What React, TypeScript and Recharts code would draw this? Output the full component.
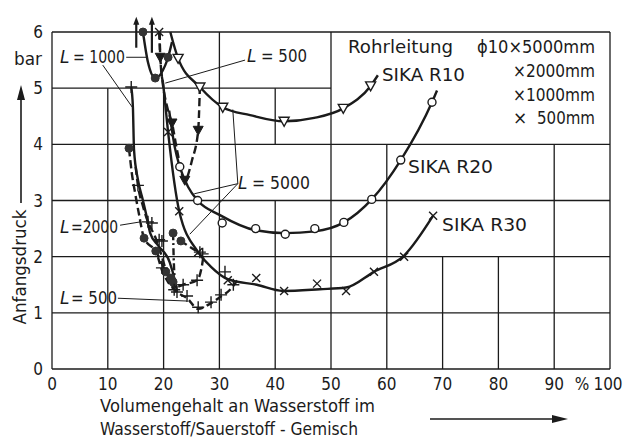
import React from 'react'
import { ComposedChart, Line, Scatter, XAxis, YAxis, ReferenceLine } from 'recharts'

type P = [number, number]

const xTicks = [0, 10, 20, 30, 40, 50, 60, 70, 80, 90, 100]
const yTicks = [0, 1, 2, 3, 4, 5, 6]

// SIKA R10 (triangles)
const r10L5000Line: P[] = [[21.2, 6.0], [22.6, 5.53], [26.5, 5.02], [30.6, 4.66], [35.5, 4.52], [41.6, 4.41], [47.0, 4.47], [52.2, 4.64], [57.1, 5.04], [58.4, 5.23]]
const r10L5000Pts: P[] = [[22.6, 5.53], [26.5, 5.02], [30.6, 4.66], [41.6, 4.41], [52.2, 4.64], [57.1, 5.04]]
const r10L1000Line: P[] = [[19.3, 6.0], [19.4, 5.55], [20.8, 4.6], [21.5, 4.38], [22.4, 3.9], [23.8, 3.36], [25.1, 3.72], [26.2, 4.25], [26.5, 5.02]]
const r10L1000Pts: P[] = [[19.4, 5.55], [21.5, 4.38], [23.8, 3.36], [26.2, 4.25]]

// SIKA R20 (circles)
const r20L5000Line: P[] = [[21.0, 4.6], [22.0, 3.95], [22.9, 3.6], [24.4, 3.24], [26.1, 3.0], [30.1, 2.74], [36.5, 2.47], [41.8, 2.42], [47.1, 2.45], [52.3, 2.61], [57.3, 3.02], [62.5, 3.72], [68.1, 4.75], [69.0, 4.96]]
const r20L5000Pts: P[] = [[22.9, 3.6], [26.1, 3.0], [30.5, 2.6], [36.5, 2.5], [41.8, 2.4], [47.1, 2.5], [52.3, 2.61], [57.3, 3.02], [62.5, 3.72], [68.1, 4.75]]
const r20L1000Line: P[] = [[16.3, 6.0], [17.2, 5.46], [18.5, 5.18], [20.3, 5.41], [20.8, 5.55], [21.5, 5.82]]
const r20L1000Pts: P[] = [[16.3, 6.0], [18.5, 5.18], [20.8, 5.55]]
const r20L2000Line: P[] = [[13.8, 3.93], [14.3, 3.49], [14.9, 3.13], [15.6, 2.75], [16.5, 2.33], [18.6, 2.1], [20.4, 1.73], [21.7, 1.55], [22.2, 1.45]]
const r20L2000Pts: P[] = [[13.8, 3.93], [16.5, 2.33], [18.6, 2.1], [20.4, 1.73], [21.3, 1.62], [21.7, 1.55]]
const r20L500aLine: P[] = [[21.7, 2.42], [21.8, 2.0], [22.0, 1.58]]
const r20L500aPts: P[] = [[21.7, 2.42]]
const r20L500bLine: P[] = [[23.1, 2.28], [24.6, 2.18], [26.2, 2.08]]
const r20L500bPts: P[] = [[23.1, 2.28]]

// SIKA R30 (crosses)
const r30L5000Line: P[] = [[19.9, 5.1], [20.8, 4.22], [22.8, 2.81], [26.2, 2.08], [28.5, 1.82], [31.5, 1.6], [36.7, 1.5], [41.4, 1.39], [48.0, 1.42], [52.7, 1.45], [57.7, 1.73], [63.1, 2.02], [68.3, 2.73]]
const r30L5000Pts: P[] = [[20.8, 4.22], [22.8, 2.81], [26.2, 2.08], [31.5, 1.58], [36.6, 1.62], [41.6, 1.39], [47.5, 1.52], [52.7, 1.39], [57.7, 1.73], [63.1, 2.0], [68.3, 2.73]]
const r30TopLine: P[] = [[19.2, 6.0], [19.5, 5.4], [19.9, 5.1]]
const r30TopPts: P[] = [[19.2, 6.0]]
const r30L1000Line: P[] = [[14.2, 5.02], [14.5, 4.66], [14.7, 3.9], [15.4, 3.37], [16.3, 3.0], [17.0, 2.7], [17.6, 2.42], [19.0, 2.2], [21.1, 1.9], [22.0, 1.58], [22.4, 1.37]]
const r30L1000Pts: P[] = [[14.2, 5.02]]
const r30L2000Line: P[] = [[15.0, 3.6], [15.4, 3.27], [16.3, 2.9], [17.2, 2.62], [18.5, 2.35], [19.7, 2.0], [20.6, 1.7], [21.9, 1.45], [23.5, 1.5], [26.0, 1.58], [26.8, 1.8], [27.2, 2.05]]
const r30L2000Pts: P[] = [[15.4, 3.27], [17.2, 2.62], [17.9, 2.6], [19.2, 2.3], [19.7, 2.28], [19.7, 1.8], [21.9, 1.41], [23.5, 1.5], [26.0, 1.58], [26.5, 2.08], [27.0, 2.05]]
const r30L500Line: P[] = [[19.0, 1.99], [19.7, 1.76], [20.6, 1.58], [22.4, 1.37], [24.2, 1.26], [26.2, 1.07], [28.3, 1.16], [30.1, 1.28], [31.9, 1.41], [33.2, 1.58]]
const r30L500Pts: P[] = [[22.4, 1.37], [24.2, 1.3], [26.2, 1.1], [28.5, 1.19], [30.3, 1.32], [32.5, 1.5], [31.0, 1.73]]

// label leaders and off-scale arrows
const leaders: [P, P][] = [
    [[13.3, 5.55], [16.9, 5.55]],
    [[9.1, 5.41], [14.4, 4.66]],
    [[34.6, 5.5], [20.3, 5.09]],
    [[33.3, 3.3], [32.4, 4.62]],
    [[33.3, 3.3], [25.5, 3.12]],
    [[33.3, 3.3], [24.7, 2.4]],
    [[12.2, 2.56], [15.9, 2.62]],
    [[11.8, 1.26], [24.2, 1.21]],
]
const upArrows: [P, P][] = [
    [[15.1, 5.72], [15.1, 6.27]],
    [[17.9, 5.63], [17.9, 6.27]],
]

// grid (irregular: boxes left free for labels)
const vGrid: [number, number, number][] = [[0, 0, 6], [10, 0, 5], [20, 0, 5], [30, 0, 6], [40, 0, 3], [40, 4, 5], [50, 0, 6], [60, 0, 4], [70, 0, 2], [80, 0, 2], [90, 0, 4], [100, 0, 6]]
const hGrid: [number, number, number][] = [[0, 0, 100], [1, 0, 100], [2, 0, 100], [3, 0, 100], [4, 0, 100], [5, 0, 50], [6, 0, 100]]

const rows = (a: P[]) => a.map(([x, y]) => ({ x, y }))
const INK = '#1b1b1b'
const FONT = '"DejaVu Sans", sans-serif'
const DIGITS = '"Liberation Sans Narrow", "DejaVu Sans Condensed", sans-serif'

const series = [
    { id: 'r10a', line: r10L5000Line, pts: r10L5000Pts, dash: '', mark: 'triOpen' },
    { id: 'r10b', line: r10L1000Line, pts: r10L1000Pts, dash: '8 4', mark: 'triFill' },
    { id: 'r20a', line: r20L5000Line, pts: r20L5000Pts, dash: '', mark: 'circOpen' },
    { id: 'r20b', line: r20L1000Line, pts: r20L1000Pts, dash: '', mark: 'circFill' },
    { id: 'r20c', line: r20L2000Line, pts: r20L2000Pts, dash: '8 4', mark: 'circFill' },
    { id: 'r20d', line: r20L500aLine, pts: r20L500aPts, dash: '7 3 2 3', mark: 'circFill' },
    { id: 'r20e', line: r20L500bLine, pts: r20L500bPts, dash: '7 4', mark: 'circFill' },
    { id: 'r30a', line: r30L5000Line, pts: r30L5000Pts, dash: '', mark: 'cross' },
    { id: 'r30b', line: r30TopLine, pts: r30TopPts, dash: '7 4', mark: 'cross' },
    { id: 'r30c', line: r30L1000Line, pts: r30L1000Pts, dash: '', mark: 'plus' },
    { id: 'r30d', line: r30L2000Line, pts: r30L2000Pts, dash: '8 4', mark: 'plus' },
    { id: 'r30e', line: r30L500Line, pts: r30L500Pts, dash: '7 4', mark: 'plus' },
]

const markShape = (kind: string) => (p: any) => {
    const { cx, cy } = p
    if (cx == null || cy == null) return <g />
    switch (kind) {
        case 'triOpen':
            return <polygon points={`${cx - 5},${cy - 4} ${cx + 5},${cy - 4} ${cx},${cy + 5}`} fill="#fff" stroke={INK} strokeWidth={1.4} />
        case 'triFill':
            return <polygon points={`${cx - 5},${cy - 4} ${cx + 5},${cy - 4} ${cx},${cy + 5}`} fill={INK} stroke={INK} strokeWidth={1} />
        case 'circOpen':
            return <circle cx={cx} cy={cy} r={4} fill="#fff" stroke={INK} strokeWidth={1.4} />
        case 'circFill':
            return <circle cx={cx} cy={cy} r={4} fill="#333" stroke="#333" />
        case 'cross':
            return <path d={`M${cx - 4},${cy - 4}L${cx + 4},${cy + 4}M${cx + 4},${cy - 4}L${cx - 4},${cy + 4}`} stroke={INK} strokeWidth={1.4} />
        default:
            return <path d={`M${cx - 6},${cy}L${cx + 6},${cy}M${cx},${cy - 6}L${cx},${cy + 6}`} stroke={INK} strokeWidth={1.4} />
    }
}

const arrowShape = (p: any) => {
    const { x1, y1, x2, y2 } = p
    return (
        <g>
            <line x1={x1} y1={y1} x2={x2} y2={y2 + 6} stroke={INK} strokeWidth={2.2} />
            <polygon points={`${x2 - 3},${y2 + 8} ${x2 + 3},${y2 + 8} ${x2},${y2}`} fill={INK} />
        </g>
    )
}

const XTick = (p: any) => {
    const v = p.payload.value
    const st = { fontFamily: DIGITS, fontSize: 17, fill: INK }
    if (v === 100) {
        return (
            <g>
                <text x={p.x - 28} y={390} textAnchor="middle" style={st}>%</text>
                <text x={p.x - 2} y={390} textAnchor="middle" style={st}>100</text>
            </g>
        )
    }
    return <text x={p.x} y={390} textAnchor="middle" style={st}>{v}</text>
}

const YTick = (p: any) => (
    <text x={43} y={p.y + 6} textAnchor="end" style={{ fontFamily: DIGITS, fontSize: 17, fill: INK }}>{p.payload.value}</text>
)

const T = ({ x, y, w, it, children }: { x: number; y: number; w?: number; it?: boolean; children: React.ReactNode }) => (
    <text x={x} y={y} textLength={w} lengthAdjust={w ? 'spacingAndGlyphs' : undefined}
        style={{ fontFamily: FONT, fontSize: 17, fill: INK, fontStyle: it ? 'italic' : 'normal' }}>{children}</text>
)

// "L = ..." label: italic L, then the rest
const LLabel = ({ x, y, gap, w, rest }: { x: number; y: number; gap: number; w: number; rest: string }) => (
    <g>
        <T x={x} y={y} it>L</T>
        <T x={x + gap} y={y} w={w}>{rest}</T>
    </g>
)

export default function App() {
    return (
        <div style={{ position: 'absolute', left: 0, top: 0, width: 627, height: 439, background: '#fff' }}>
            <ComposedChart width={627} height={439} margin={{ top: 32, right: 17, bottom: 40, left: 12 }}>
                <XAxis dataKey="x" type="number" domain={[0, 100]} ticks={xTicks} axisLine={false} tickLine={false} height={30} tick={<XTick />} interval={0} />
                <YAxis type="number" domain={[0, 6]} ticks={yTicks} axisLine={false} tickLine={false} width={40} tick={<YTick />} interval={0} />
                {vGrid.map(([x, a, b], i) => (
                    <ReferenceLine key={'v' + i} segment={[{ x, y: a }, { x, y: b }]} stroke={INK} strokeWidth={1.3} />
                ))}
                {hGrid.map(([y, a, b], i) => (
                    <ReferenceLine key={'h' + i} segment={[{ x: a, y }, { x: b, y }]} stroke={INK} strokeWidth={1.3} />
                ))}
                {leaders.map(([a, b], i) => (
                    <ReferenceLine key={'l' + i} segment={[{ x: a[0], y: a[1] }, { x: b[0], y: b[1] }]} stroke={INK} strokeWidth={1} />
                ))}
                {upArrows.map(([a, b], i) => (
                    <ReferenceLine key={'a' + i} ifOverflow="visible" segment={[{ x: a[0], y: a[1] }, { x: b[0], y: b[1] }]} shape={arrowShape} />
                ))}
                {series.map((s) => (
                    <Line key={s.id} data={rows(s.line)} dataKey="y" type="monotone" stroke={INK} strokeWidth={2.4}
                        strokeDasharray={s.dash || undefined} dot={false} activeDot={false} isAnimationActive={false} />
                ))}
                {series.map((s) => (
                    <Scatter key={s.id + 'm'} data={rows(s.pts)} dataKey="y" shape={markShape(s.mark)} isAnimationActive={false} />
                ))}
            </ComposedChart>
            <svg width={627} height={439} style={{ position: 'absolute', left: 0, top: 0, pointerEvents: 'none' }}>
                <T x={14} y={65} w={28}>bar</T>
                <LLabel x={60} y={63} gap={13} w={52} rest="= 1000" />
                <LLabel x={247} y={62} gap={14} w={46} rest="= 500" />
                <LLabel x={238} y={189} gap={14} w={58} rest="= 5000" />
                <LLabel x={60} y={233} gap={11} w={47} rest="=2000" />
                <LLabel x={60} y={304} gap={11} w={46} rest="= 500" />
                <T x={348} y={53} w={105}>Rohrleitung</T>
                <T x={477} y={53} w={118}>ϕ10×5000mm</T>
                <T x={513} y={77} w={82}>×2000mm</T>
                <T x={513} y={101} w={82}>×1000mm</T>
                <T x={513} y={124}>×</T>
                <T x={537} y={124} w={58}>500mm</T>
                <T x={382} y={81} w={83}>SIKA R10</T>
                <T x={408} y={173} w={85}>SIKA R20</T>
                <T x={442} y={231} w={85}>SIKA R30</T>
                <text transform="translate(26,267) rotate(-90)" textAnchor="middle" textLength={115} lengthAdjust="spacingAndGlyphs"
                    style={{ fontFamily: FONT, fontSize: 17, fill: INK }}>Anfangsdruck</text>
                <line x1={21} y1={203} x2={21} y2={98} stroke={INK} strokeWidth={1.6} />
                <polygon points="17,100 25,100 21,85" fill={INK} />
                <T x={100} y={412} w={275}>Volumengehalt an Wasserstoff im</T>
                <T x={100} y={435} w={258}>Wasserstoff/Sauerstoff - Gemisch</T>
                <line x1={430} y1={419} x2={554} y2={419} stroke={INK} strokeWidth={1.6} />
                <polygon points="552,415 552,423 568,419" fill={INK} />
            </svg>
        </div>
    )
}
